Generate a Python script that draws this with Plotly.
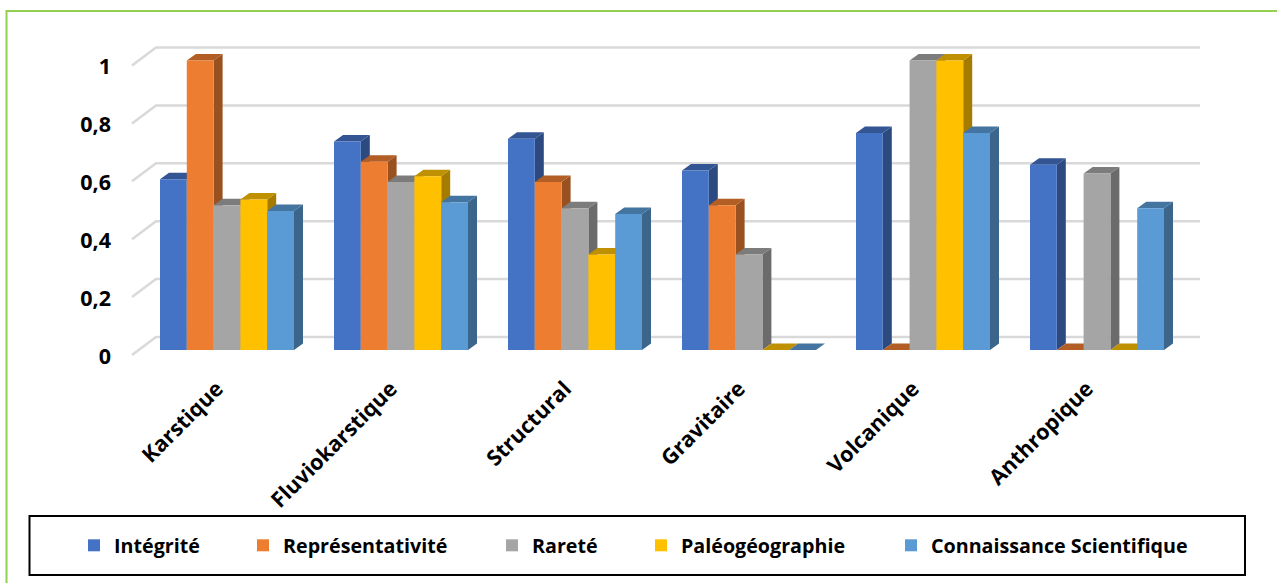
import plotly.graph_objects as go

categories = ["Karstique", "Fluviokarstique", "Structural", "Gravitaire", "Volcanique", "Anthropique"]
integrite = [0.59, 0.72, 0.73, 0.62, 0.75, 0.64]
representativite = [1.0, 0.65, 0.58, 0.50, 0.0, 0.0]
rarete = [0.50, 0.58, 0.49, 0.33, 1.0, 0.61]
paleogeographie = [0.52, 0.60, 0.33, 0.0, 1.0, 0.0]
connaissance = [0.48, 0.51, 0.47, 0.0, 0.75, 0.49]
y_ticks = [0, 0.2, 0.4, 0.6, 0.8, 1]
y_tick_labels = ["0", "0,2", "0,4", "0,6", "0,8", "1"]

series = [
    ("Intégrité", integrite, "#4472C4", "#2C4A80", "#335593", 114),
    ("Représentativité", representativite, "#ED7D31", "#9A5120", "#B25E25", 283),
    ("Rareté", rarete, "#A5A5A5", "#6B6B6B", "#7C7C7C", 532),
    ("Paléogéographie", paleogeographie, "#FFC000", "#A67C00", "#BF9000", 681),
    ("Connaissance Scientifique", connaissance, "#5B9BD5", "#3B658A", "#4474A0", 931),
]

W, H = 1277, 583
PX_L, PX_R, PX_T, PX_B = 112, 1210, 40, 362
STEP, CX0 = 174.0, 227.0      # px per category, px of first category
UNIT, Y0 = 289.5, 350.0       # px per value unit, px of value 0
x_range = [(PX_L - CX0) / STEP, (PX_R - CX0) / STEP]
y_range = [(Y0 - PX_B) / UNIT, (Y0 - PX_T) / UNIT]

BAR_W = (134 / 5) / STEP
DX, DV = 9 / STEP, 6.5 / UNIT  # bar depth

fig = go.Figure()

# back wall grid lines
gx, gy = [], []
for v in y_ticks:
    gx += [(132 - CX0) / STEP, (156 - CX0) / STEP, (1200 - CX0) / STEP, None]
    gy += [v - 5 / UNIT, v + 13 / UNIT, v + 13 / UNIT, None]
fig.add_trace(go.Scatter(x=gx, y=gy, mode="lines", line=dict(color="#D9D9D9", width=2.5),
                         hoverinfo="skip", showlegend=False))

# side and top faces, computed from the values
for s, (name, vals, col, side, top, _) in enumerate(series):
    sx, sy, tx, ty = [], [], [], []
    for c, v in enumerate(vals):
        left = c + (s - 2.5) * BAR_W
        right = left + BAR_W
        sx += [right, right + DX, right + DX, right, right, None]
        sy += [0, DV, v + DV, v, 0, None]
        tx += [left, right, right + DX, left + DX, left, None]
        ty += [v, v, v + DV, v + DV, v, None]
    for xs, ys, fc in ((sx, sy, side), (tx, ty, top)):
        fig.add_trace(go.Scatter(x=xs, y=ys, mode="lines", fill="toself", fillcolor=fc,
                                 line=dict(width=0, color=fc), hoverinfo="skip", showlegend=False))

# front faces, on an overlay axis pair so they sit above the side faces
for s, (name, vals, col, side, top, tx_px) in enumerate(series):
    fig.add_trace(go.Bar(x=list(range(len(categories))), y=vals, name=name, marker_color=col,
                         marker_line_width=0, xaxis="x2", yaxis="y2",
                         legend="legend" if s == 0 else f"legend{s + 1}"))

font = dict(family="Open Sans", size=19.7, color="#000000", weight=700)
tick_font = dict(family="Open Sans", size=21.5, color="#000000", weight=700)
layout = dict(
    width=W, height=H, autosize=False,
    margin=dict(l=0, r=0, t=0, b=0, autoexpand=False),
    paper_bgcolor="#FFFFFF", plot_bgcolor="rgba(0,0,0,0)",
    barmode="group", bargap=1 - 134 / STEP, bargroupgap=0,
    font=font,
    xaxis=dict(domain=[PX_L / W, PX_R / W], range=x_range, tickmode="array",
               tickvals=[i - 10 / STEP for i in range(len(categories))], ticktext=categories, tickangle=-45,
               showgrid=False, zeroline=False, showline=False, ticks="", tickfont=tick_font,
               ticklabelstandoff=9),
    yaxis=dict(domain=[1 - PX_B / H, 1 - PX_T / H], range=y_range, tickmode="array",
               tickvals=[v - 6 / UNIT for v in y_ticks], ticktext=y_tick_labels,
               showgrid=False, zeroline=False, showline=False, ticks="", tickfont=tick_font),
    xaxis2=dict(range=x_range, overlaying="x", visible=False, anchor="y2"),
    yaxis2=dict(range=y_range, overlaying="y", visible=False, anchor="x2"),
    shapes=[
        dict(type="path", xref="paper", yref="paper",
             path=f"M {6.5 / W} -0.05 L {6.5 / W} {1 - 11 / H} L 1.01 {1 - 11 / H}",
             line=dict(color="#92D050", width=2), layer="below"),
        dict(type="rect", xref="paper", yref="paper", x0=29.5 / W, x1=1245 / W, y0=1 - 575 / H, y1=1 - 516 / H,
             line=dict(color="#000000", width=2), layer="below"),
    ],
)
for s, (_, _, _, _, _, tx_px) in enumerate(series):
    key = "legend" if s == 0 else f"legend{s + 1}"
    layout[key] = dict(x=(tx_px - 40) / W, xanchor="left", y=1 - 545.5 / H, yanchor="middle",
                       bgcolor="rgba(0,0,0,0)", font=font, itemclick=False, itemdoubleclick=False)
fig.update_layout(**layout)

fig.write_html("out.html", config={"displayModeBar": False},
               post_script="document.body.style.margin='0';document.body.style.overflow='hidden';")
